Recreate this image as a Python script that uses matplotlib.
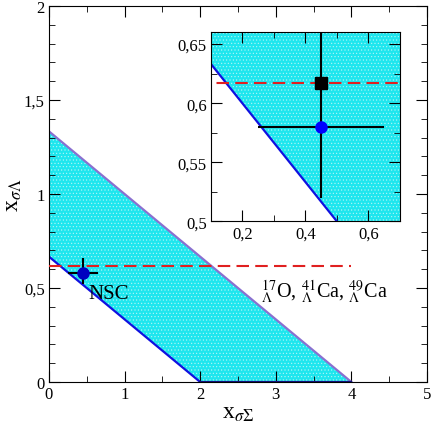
import numpy as np
import matplotlib
matplotlib.use("Agg")
import matplotlib.pyplot as plt
from matplotlib.ticker import FuncFormatter, MultipleLocator

plt.rcParams['font.family'] = ['Liberation Serif', 'DejaVu Serif']
plt.rcParams['mathtext.fontset'] = 'stix'
plt.rcParams['hatch.color'] = '#b8f6f6'
plt.rcParams['hatch.linewidth'] = 0.4

# band boundaries: x_sigmaLambda = a - x_sigmaSigma / 3
band_x_lower = [0.0, 2.0]
band_y_lower = [2 / 3, 0.0]
band_x_upper = [0.0, 4.0]
band_y_upper = [4 / 3, 0.0]

# hypernuclei constraint (red dashed)
hyp_y = 0.617
hyp_x_range = [0.0, 4.0]

# NSC point
nsc_x = 0.45
nsc_y = 0.58
nsc_xerr = 0.2
nsc_yerr = [[0.06], [0.08]]

# square point in inset
sq_x = 0.45
sq_y = 0.617


def comma(v, pos):
    s = ('%g' % v).replace('.', ',')
    return s


def draw_band(ax):
    xs = np.array([0.0, 2.0, 4.0])
    lo = np.interp(xs, band_x_lower, band_y_lower, right=0.0)
    hi = np.interp(xs, band_x_upper, band_y_upper)
    ax.fill_between(xs, lo, hi, facecolor='#1ee6ee', hatch='.....',
                    edgecolor='#b8f6f6', linewidth=0, zorder=1)
    ax.plot(band_x_lower, band_y_lower, color='#1010e0', lw=1.6, zorder=2)
    ax.plot(band_x_upper, band_y_upper, color='#8a70d0', lw=1.6, zorder=2)
    ax.plot([2, 4], [0, 0], color='#101080', lw=1.6, zorder=2)


def style_ticks(a):
    a.xaxis.set_major_formatter(FuncFormatter(comma))
    a.yaxis.set_major_formatter(FuncFormatter(comma))
    a.tick_params(which='both', direction='in', top=True, right=True,
                  labelsize=12, pad=3)
    a.tick_params(which='major', length=8)
    a.tick_params(which='minor', length=4)


fig = plt.figure(figsize=(4.32, 4.27), dpi=100)
ax = fig.add_axes([0.1134, 0.103, 0.875, 0.8806])
draw_band(ax)
ax.plot(hyp_x_range, [hyp_y, hyp_y], color='#e02020', lw=1.5,
        linestyle=(0, (6, 3)), zorder=3)
ax.errorbar([nsc_x], [nsc_y], xerr=nsc_xerr, yerr=nsc_yerr, fmt='o',
            color='#0000c0', ecolor='black', elinewidth=1.5, capsize=0,
            markersize=8, zorder=4)
ax.text(0.52, 0.47, 'NSC', fontsize=15, va='center', ha='left')
ax.text(2.8, 0.48, r'$_\Lambda^{17}$O, $_\Lambda^{41}$Ca, $_\Lambda^{49}$Ca',
        fontsize=14.5, va='center', ha='left')

ax.set_xlim(0, 5)
ax.set_ylim(0, 2)
ax.xaxis.set_major_locator(MultipleLocator(1))
ax.xaxis.set_minor_locator(MultipleLocator(0.5))
ax.yaxis.set_major_locator(MultipleLocator(0.5))
ax.yaxis.set_minor_locator(MultipleLocator(0.1))
style_ticks(ax)
ax.set_xlabel(r'x$_{\sigma\Sigma}$', fontsize=17, labelpad=0)
ax.set_ylabel(r'x$_{\sigma\Lambda}$', fontsize=17, labelpad=0)

# inset
ins = fig.add_axes([0.488, 0.479, 0.438, 0.443])
draw_band(ins)
ins.plot(hyp_x_range, [hyp_y, hyp_y], color='#e02020', lw=1.5,
         linestyle=(0, (6, 3)), zorder=3)
ins.errorbar([nsc_x], [nsc_y], xerr=nsc_xerr, yerr=nsc_yerr, fmt='o',
             color='#0000ff', ecolor='black', elinewidth=1.5, capsize=0,
             markersize=8, zorder=4)
ins.plot([sq_x], [sq_y], 's', color='black', markersize=9, zorder=5)
ins.set_xlim(0.1, 0.7)
ins.set_ylim(0.5, 0.66)
ins.xaxis.set_major_locator(MultipleLocator(0.2))
ins.xaxis.set_minor_locator(MultipleLocator(0.1))
ins.yaxis.set_major_locator(MultipleLocator(0.05))
ins.yaxis.set_minor_locator(MultipleLocator(0.025))
style_ticks(ins)

fig.savefig('out.png', dpi=100)
